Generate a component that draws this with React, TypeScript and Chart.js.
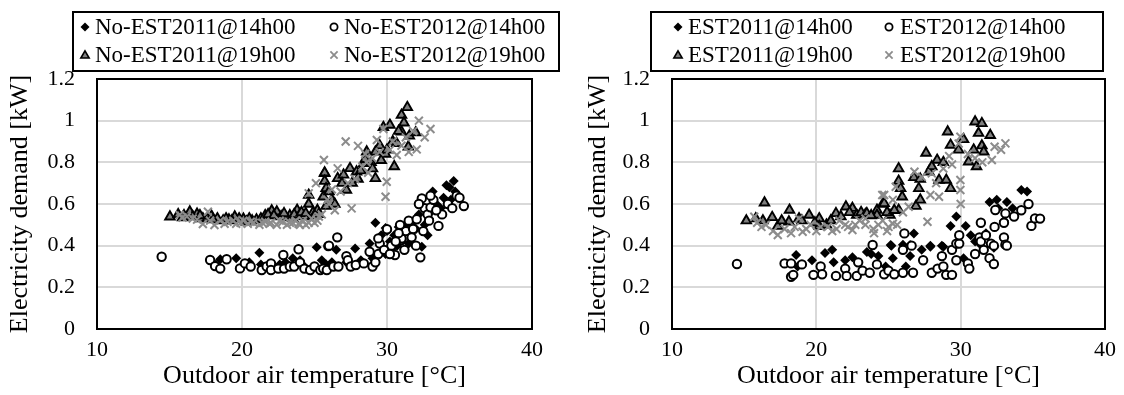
import React, { useEffect, useRef } from 'react';
import { Chart, registerables } from 'chart.js';

Chart.register(...registerables);

const FONT = "'Liberation Serif', 'Times New Roman', serif";

type Pt = [number, number];

// ---------- Left panel (No-EST) ----------
const noEst2011At14: Pt[] = [
  [18.5, 0.335], [18.2, 0.31], [19.6, 0.34], [20.5, 0.32], [21.2, 0.366], [21.3, 0.31], [22.0, 0.30], [22.6, 0.31],
  [23.0, 0.32], [23.5, 0.34], [24.0, 0.33], [24.3, 0.30], [25.15, 0.392], [25.5, 0.33], [25.8, 0.31], [26.5, 0.38],
  [26.2, 0.32], [27.2, 0.32], [27.8, 0.387], [28.2, 0.33], [28.8, 0.41], [29.0, 0.34], [29.5, 0.36], [29.9, 0.36],
  [29.2, 0.51], [29.9, 0.485], [30.2, 0.42], [30.5, 0.45], [30.8, 0.49], [31.0, 0.44], [31.3, 0.50], [31.6, 0.47],
  [31.9, 0.52], [32.4, 0.395], [32.2, 0.55], [32.6, 0.50], [33.0, 0.56], [33.15, 0.66], [33.4, 0.60], [33.7, 0.58],
  [34.1, 0.69], [34.3, 0.68], [34.6, 0.71], [34.4, 0.62], [32.8, 0.45], [31.5, 0.41], [30.0, 0.47], [29.6, 0.45],
  [30.3, 0.38], [31.1, 0.46], [32.0, 0.48], [32.9, 0.53], [33.9, 0.63], [34.7, 0.66], [30.7, 0.40],
];

const noEst2012At14: Pt[] = [
  [14.46, 0.347], [17.8, 0.331], [18.14, 0.302], [18.5, 0.29], [18.94, 0.335], [19.86, 0.291], [20.2, 0.315], [20.6, 0.30],
  [21.36, 0.283], [21.7, 0.30], [22.0, 0.315], [22.0, 0.283], [22.5, 0.29], [22.85, 0.355], [22.9, 0.29], [23.3, 0.30],
  [23.6, 0.30], [23.9, 0.383], [24.0, 0.32], [24.3, 0.29], [24.7, 0.283], [25.0, 0.30], [25.4, 0.283], [25.6, 0.29],
  [25.95, 0.398], [25.85, 0.283], [26.0, 0.40], [26.3, 0.30], [26.57, 0.44], [26.65, 0.30], [27.2, 0.35], [27.3, 0.33],
  [27.5, 0.30], [27.85, 0.307], [28.4, 0.315], [28.8, 0.371], [29.0, 0.30], [29.2, 0.32], [29.4, 0.36], [29.5, 0.41],
  [29.4, 0.435], [30.0, 0.479], [30.55, 0.355], [30.3, 0.40], [31.0, 0.427], [31.0, 0.435], [31.5, 0.52], [31.3, 0.47],
  [32.0, 0.40], [32.3, 0.344], [32.05, 0.527], [32.4, 0.627], [32.6, 0.58], [32.8, 0.55], [33.0, 0.584], [33.2, 0.62],
  [33.55, 0.495], [33.8, 0.55], [34.2, 0.60], [34.8, 0.64], [35.0, 0.63], [35.3, 0.59], [31.8, 0.48], [30.8, 0.46],
  [32.2, 0.60], [33.0, 0.64], [29.8, 0.38], [30.2, 0.36], [30.6, 0.42], [31.2, 0.38], [31.7, 0.44], [32.5, 0.47],
  [32.9, 0.52], [33.4, 0.57], [34.5, 0.58], [30.9, 0.50],
];

const noEst2011At19: Pt[] = [
  [15.03, 0.539], [15.6, 0.55], [16.0, 0.545], [16.4, 0.563], [16.9, 0.552], [17.3, 0.53], [17.6, 0.53], [17.9, 0.542],
  [18.3, 0.53], [18.7, 0.52], [19.1, 0.525], [19.5, 0.539], [19.8, 0.53], [20.1, 0.528], [20.3, 0.515], [20.7, 0.52],
  [21.0, 0.525], [21.3, 0.53], [21.6, 0.545], [22.05, 0.568], [22.4, 0.563], [22.7, 0.54], [23.0, 0.535], [23.3, 0.545],
  [23.5, 0.53], [23.8, 0.571], [24.0, 0.55], [24.3, 0.54], [24.6, 0.6], [24.6, 0.643], [24.9, 0.56], [25.2, 0.57],
  [25.6, 0.635], [25.7, 0.747], [25.7, 0.75], [25.7, 0.71], [25.8, 0.675], [25.8, 0.59], [26.2, 0.62], [26.6, 0.723],
  [27.2, 0.667], [27.45, 0.771], [27.9, 0.755], [28.0, 0.72], [28.4, 0.795], [28.5, 0.815], [28.6, 0.851], [28.9, 0.80],
  [29.2, 0.723], [29.2, 0.85], [29.5, 0.88], [29.75, 0.968], [29.9, 0.84], [30.2, 0.979], [30.4, 0.90], [30.5, 0.78],
  [30.67, 0.891], [31.0, 1.027], [31.0, 0.947], [31.17, 0.99], [31.4, 1.064], [31.47, 0.875], [31.54, 0.927], [31.98, 0.943],
  [27.0, 0.74], [26.9, 0.70], [15.9, 0.535], [16.6, 0.54], [17.1, 0.545], [18.0, 0.525], [18.9, 0.53], [19.3, 0.52],
  [20.5, 0.53], [21.8, 0.55], [22.2, 0.545], [22.9, 0.555], [23.6, 0.55], [24.1, 0.56], [24.4, 0.555], [25.0, 0.545],
  [25.3, 0.55], [26.0, 0.66], [26.4, 0.60], [27.6, 0.70], [28.2, 0.76], [29.0, 0.77], [29.6, 0.81], [30.0, 0.86],
  [30.8, 0.95],
];

const noEst2012At19: Pt[] = [
  [15.7, 0.547], [16.2, 0.54], [16.6, 0.53], [17.3, 0.504], [17.65, 0.563], [18.1, 0.499], [18.5, 0.52], [19.0, 0.515],
  [19.4, 0.52], [19.9, 0.51], [20.4, 0.505], [20.8, 0.51], [21.2, 0.50], [21.6, 0.515], [22.0, 0.51], [22.4, 0.50],
  [22.8, 0.515], [23.1, 0.50], [23.5, 0.51], [23.9, 0.505], [24.2, 0.52], [24.4, 0.50], [24.8, 0.53], [25.0, 0.51],
  [25.3, 0.54], [24.6, 0.651], [25.1, 0.70], [25.65, 0.811], [26.0, 0.60], [26.4, 0.57], [26.6, 0.771], [27.15, 0.90],
  [27.56, 0.579], [27.3, 0.70], [28.0, 0.879], [28.3, 0.78], [28.7, 0.75], [29.0, 0.82], [29.3, 0.907], [29.75, 0.96],
  [29.9, 0.635], [29.98, 0.707], [30.2, 0.86], [30.67, 0.835], [31.0, 0.88], [31.5, 0.85], [32.05, 0.862], [32.2, 1.0],
  [32.6, 0.92], [33.0, 0.96], [28.5, 0.84], [26.2, 0.67], [15.9, 0.535], [16.9, 0.525], [17.8, 0.52], [18.8, 0.505],
  [19.6, 0.505], [20.1, 0.52], [20.6, 0.515], [21.4, 0.51], [21.9, 0.505], [22.6, 0.52], [23.3, 0.51], [23.7, 0.52],
  [24.0, 0.50], [24.6, 0.51], [25.2, 0.52], [25.5, 0.55], [25.9, 0.62], [26.8, 0.66], [27.8, 0.72], [28.6, 0.80],
  [29.5, 0.85], [30.4, 0.90], [31.3, 0.92], [31.8, 0.95],
];

// ---------- Right panel (EST) ----------
const est2011At14: Pt[] = [
  [18.6, 0.355], [18.7, 0.30], [19.7, 0.33], [20.6, 0.365], [21.1, 0.38], [21.2, 0.32], [22.5, 0.345], [23.5, 0.37],
  [23.8, 0.36], [24.3, 0.35], [24.8, 0.30], [25.2, 0.40], [25.3, 0.34], [26.0, 0.405], [26.2, 0.30], [26.5, 0.35],
  [25.15, 0.403], [26.5, 0.403], [26.76, 0.459], [27.9, 0.40], [27.9, 0.395], [28.7, 0.40], [28.8, 0.395], [29.3, 0.495],
  [29.7, 0.54], [30.2, 0.34], [30.35, 0.495], [30.7, 0.45], [31.0, 0.42], [31.3, 0.41], [31.75, 0.46], [32.0, 0.61],
  [32.3, 0.39], [32.5, 0.62], [32.6, 0.58], [33.2, 0.61], [34.2, 0.667], [34.6, 0.66], [33.6, 0.58], [33.0, 0.52],
  [27.3, 0.38], [22.0, 0.33],
];

const est2012At14: Pt[] = [
  [14.5, 0.312], [17.8, 0.315], [18.25, 0.315], [18.25, 0.251], [18.4, 0.26], [19.0, 0.31], [19.8, 0.26], [20.3, 0.30],
  [20.4, 0.263], [21.36, 0.255], [22.0, 0.29], [22.1, 0.255], [22.8, 0.255], [22.9, 0.32], [23.2, 0.28], [23.7, 0.27],
  [23.9, 0.403], [24.2, 0.31], [24.7, 0.263], [25.0, 0.28], [25.4, 0.263], [26.0, 0.38], [26.0, 0.27], [26.1, 0.459],
  [26.6, 0.40], [26.7, 0.27], [27.4, 0.33], [28.0, 0.27], [28.4, 0.29], [28.7, 0.35], [28.8, 0.30], [29.0, 0.26],
  [29.4, 0.26], [29.4, 0.38], [29.7, 0.33], [29.7, 0.41], [29.9, 0.41], [29.9, 0.45], [30.5, 0.315], [30.6, 0.29],
  [31.0, 0.36], [31.3, 0.44], [31.4, 0.42], [31.4, 0.51], [31.6, 0.38], [31.75, 0.45], [32.0, 0.34], [32.1, 0.41],
  [32.3, 0.312], [32.3, 0.40], [32.35, 0.49], [32.4, 0.571], [33.0, 0.44], [33.0, 0.51], [33.1, 0.405], [33.1, 0.555],
  [33.2, 0.40], [33.7, 0.54], [34.2, 0.57], [34.7, 0.6], [34.9, 0.495], [35.15, 0.531], [35.5, 0.53],
];

const est2011At19: Pt[] = [
  [15.15, 0.52], [16.3, 0.52], [16.41, 0.606], [16.94, 0.536], [17.33, 0.494], [18.1, 0.515], [18.14, 0.571], [18.8, 0.53],
  [19.5, 0.547], [20.2, 0.53], [20.2, 0.493], [20.7, 0.50], [21.36, 0.555], [21.7, 0.54], [22.05, 0.587], [22.5, 0.58],
  [22.8, 0.547], [23.1, 0.56], [23.4, 0.55], [23.5, 0.555], [24.2, 0.571], [24.2, 0.547], [24.6, 0.6], [24.7, 0.603],
  [25.1, 0.547], [25.7, 0.571], [25.7, 0.71], [25.7, 0.77], [25.84, 0.675], [25.95, 0.635], [26.76, 0.728], [26.9, 0.59],
  [27.1, 0.675], [27.2, 0.72], [27.2, 0.62], [27.6, 0.845], [27.8, 0.755], [28.37, 0.811], [28.5, 0.715], [29.0, 0.715],
  [29.1, 0.947], [29.3, 0.883], [29.3, 0.675], [29.85, 0.86], [30.2, 0.91], [30.55, 0.803], [30.9, 0.86], [31.0, 0.995],
  [31.1, 0.78], [31.24, 0.94], [31.47, 0.987], [31.47, 0.88], [31.6, 0.851], [32.05, 0.93], [28.8, 0.80], [28.0, 0.78],
  [15.8, 0.53], [17.6, 0.52], [19.0, 0.52], [19.9, 0.51], [21.0, 0.52], [22.3, 0.56], [23.8, 0.545], [24.9, 0.56],
  [25.4, 0.57],
];

const est2012At19: Pt[] = [
  [15.7, 0.539], [15.9, 0.51], [16.5, 0.50], [17.33, 0.451], [18.25, 0.46], [18.8, 0.53], [19.05, 0.467], [19.6, 0.50],
  [20.3, 0.49], [21.1, 0.47], [21.6, 0.52], [22.0, 0.50], [22.5, 0.475], [22.7, 0.50], [23.0, 0.52], [23.4, 0.50],
  [23.4, 0.53], [23.95, 0.48], [24.3, 0.50], [24.6, 0.52], [25.0, 0.49], [25.3, 0.505], [24.57, 0.643], [24.7, 0.643],
  [25.3, 0.62], [25.5, 0.683], [26.4, 0.587], [26.8, 0.755], [27.3, 0.73], [27.7, 0.515], [27.9, 0.643], [28.0, 0.747],
  [28.5, 0.635], [28.8, 0.77], [29.2, 0.83], [29.4, 0.79], [29.86, 0.89], [29.98, 0.923], [29.98, 0.715], [29.98, 0.667],
  [30.0, 0.60], [30.5, 0.84], [31.0, 0.82], [31.5, 0.80], [32.16, 0.811], [32.35, 0.875], [32.8, 0.86], [33.1, 0.891],
  [26.0, 0.56], [28.3, 0.70], [16.2, 0.49], [17.0, 0.47], [17.8, 0.48], [18.5, 0.49], [19.3, 0.48], [20.0, 0.47],
  [20.8, 0.49], [21.4, 0.48], [22.2, 0.49], [24.0, 0.46], [24.9, 0.47], [25.6, 0.50],
];

const leftLabels = ['No-EST2011@14h00', 'No-EST2012@14h00', 'No-EST2011@19h00', 'No-EST2012@19h00'];
const rightLabels = ['EST2011@14h00', 'EST2012@14h00', 'EST2011@19h00', 'EST2012@19h00'];

const xTitle = 'Outdoor air temperature [°C]';
const yTitle = 'Electricity demand [kW]';

const TRI_FILL = '#7f7f7f';
const CROSS_COLOR = '#8c8c8c';

type Marker = 'diamond' | 'circle' | 'triangle' | 'cross';
const markers: Marker[] = ['diamond', 'circle', 'triangle', 'cross'];

function drawMarker(ctx: CanvasRenderingContext2D, m: Marker, x: number, y: number) {
  ctx.save();
  ctx.beginPath();
  if (m === 'diamond') {
    const r = 4.5;
    ctx.moveTo(x, y - r); ctx.lineTo(x + r, y); ctx.lineTo(x, y + r); ctx.lineTo(x - r, y); ctx.closePath();
    ctx.fillStyle = '#000'; ctx.fill();
  } else if (m === 'circle') {
    ctx.arc(x, y, 3.6, 0, Math.PI * 2);
    ctx.fillStyle = '#fff'; ctx.fill();
    ctx.lineWidth = 1.8; ctx.strokeStyle = '#000'; ctx.stroke();
  } else if (m === 'triangle') {
    const r = 4.8;
    for (let i = 0; i < 3; i++) {
      const a = (i * 2 * Math.PI) / 3;
      const px = x + Math.sin(a) * r, py = y + 0.6 - Math.cos(a) * r;
      if (i === 0) ctx.moveTo(px, py); else ctx.lineTo(px, py);
    }
    ctx.closePath();
    ctx.fillStyle = TRI_FILL; ctx.fill();
    ctx.lineWidth = 1.6; ctx.strokeStyle = '#000'; ctx.stroke();
  } else {
    const r = 3.6;
    ctx.moveTo(x - r, y - r); ctx.lineTo(x + r, y + r);
    ctx.moveTo(x + r, y - r); ctx.lineTo(x - r, y + r);
    ctx.lineWidth = 1.8; ctx.strokeStyle = CROSS_COLOR; ctx.stroke();
  }
  ctx.restore();
}

interface LegendCfg {
  box: [number, number, number, number];
  markerX: [number, number];
  textX: [number, number];
  rowY: [number, number];
  labels: string[];
}

function makeLegendPlugin(cfg: LegendCfg) {
  return {
    id: 'boxLegend',
    afterDraw(chart: any) {
      const ctx: CanvasRenderingContext2D = chart.ctx;
      ctx.save();
      ctx.lineWidth = 2;
      ctx.strokeStyle = '#000';
      const [bx, by, bw, bh] = cfg.box;
      ctx.strokeRect(bx, by, bw, bh);
      ctx.font = `23px ${FONT}`;
      ctx.fillStyle = '#000';
      ctx.textBaseline = 'middle';
      ctx.textAlign = 'left';
      cfg.labels.forEach((lab, i) => {
        const col = i % 2;
        const row = Math.floor(i / 2);
        drawMarker(ctx, markers[i], cfg.markerX[col], cfg.rowY[row]);
        ctx.fillStyle = '#000';
        ctx.fillText(lab, cfg.textX[col], cfg.rowY[row] + 1);
      });
      ctx.restore();
    },
  };
}

const framePlugin = {
  id: 'frame',
  beforeDatasetsDraw(chart: any) {
    const { ctx, chartArea: a } = chart;
    ctx.save();
    ctx.strokeStyle = '#000';
    ctx.lineWidth = 2;
    ctx.strokeRect(a.left, a.top, a.right - a.left, a.bottom - a.top);
    ctx.restore();
  },
};

interface PanelProps {
  series: Pt[][];
  labels: string[];
  yAxisWidth: number;
  padRight: number;
  yTitlePad: number;
  legend: LegendCfg;
}

function Panel({ series, labels, yAxisWidth, padRight, yTitlePad, legend }: PanelProps) {
  const ref = useRef<HTMLCanvasElement | null>(null);
  useEffect(() => {
    if (!ref.current) return;
    const styles = [
      { pointStyle: 'rectRot', radius: 5, bg: '#000', border: '#000', bw: 0, order: 4 },
      { pointStyle: 'circle', radius: 4.2, bg: '#fff', border: '#000', bw: 2, order: 3 },
      { pointStyle: 'triangle', radius: 5.5, bg: TRI_FILL, border: '#000', bw: 1.9, order: 2 },
      { pointStyle: 'crossRot', radius: 5.6, bg: CROSS_COLOR, border: CROSS_COLOR, bw: 2, order: 1 },
    ];
    const chart = new Chart(ref.current, {
      type: 'scatter',
      data: {
        datasets: series.map((s, i) => ({
          label: labels[i],
          data: s.map(([x, y]) => ({ x, y })),
          pointStyle: styles[i].pointStyle as any,
          pointRadius: styles[i].radius,
          pointBackgroundColor: styles[i].bg,
          pointBorderColor: styles[i].border,
          pointBorderWidth: styles[i].bw,
          order: styles[i].order,
        })),
      },
      options: {
        responsive: false,
        animation: false,
        devicePixelRatio: 1,
        events: [],
        layout: { padding: { top: 79, right: padRight, left: 0, bottom: 0 } },
        plugins: { legend: { display: false }, tooltip: { enabled: false } },
        scales: {
          x: {
            type: 'linear',
            min: 10,
            max: 40,
            ticks: { stepSize: 10, padding: 8, color: '#000', font: { family: FONT, size: 22 } },
            grid: { color: '#d9d9d9', lineWidth: 2, drawTicks: false },
            border: { display: false },
            title: {
              display: true,
              text: xTitle,
              color: '#000',
              font: { family: FONT, size: 26 },
              padding: { top: 0, bottom: 3 },
            },
            afterFit: (s: any) => { s.height = 66; },
          },
          y: {
            type: 'linear',
            min: 0,
            max: 1.2,
            ticks: {
              stepSize: 0.2,
              padding: 22,
              color: '#000',
              font: { family: FONT, size: 22 },
              callback: (v: any) => String(Math.round(Number(v) * 10) / 10),
            },
            grid: { color: '#d9d9d9', lineWidth: 2, drawTicks: false },
            border: { display: false },
            title: {
              display: true,
              text: yTitle,
              color: '#000',
              font: { family: FONT, size: 26 },
              padding: { top: yTitlePad, bottom: 0 },
            },
            afterFit: (s: any) => { s.width = yAxisWidth; },
          },
        },
      },
      plugins: [framePlugin, makeLegendPlugin(legend)],
    } as any);
    return () => chart.destroy();
  }, []);
  return <canvas ref={ref} width={562} height={395} style={{ width: 562, height: 395, display: 'block' }} />;
}

export default function App() {
  return (
    <div style={{ position: 'absolute', left: 0, top: 0, width: 1124, height: 395, display: 'flex', background: '#fff' }}>
      <Panel
        series={[noEst2011At14, noEst2012At14, noEst2011At19, noEst2012At19]}
        labels={leftLabels}
        yAxisWidth={97}
        padRight={30}
        yTitlePad={5}
        legend={{ box: [73, 12, 486, 59], markerX: [85, 334], textX: [95, 344], rowY: [27, 55], labels: leftLabels }}
      />
      <Panel
        series={[est2011At14, est2012At14, est2011At19, est2012At19]}
        labels={rightLabels}
        yAxisWidth={110}
        padRight={17}
        yTitlePad={21}
        legend={{ box: [89, 12, 452, 59], markerX: [116, 327], textX: [126, 338], rowY: [27, 55], labels: rightLabels }}
      />
    </div>
  );
}
